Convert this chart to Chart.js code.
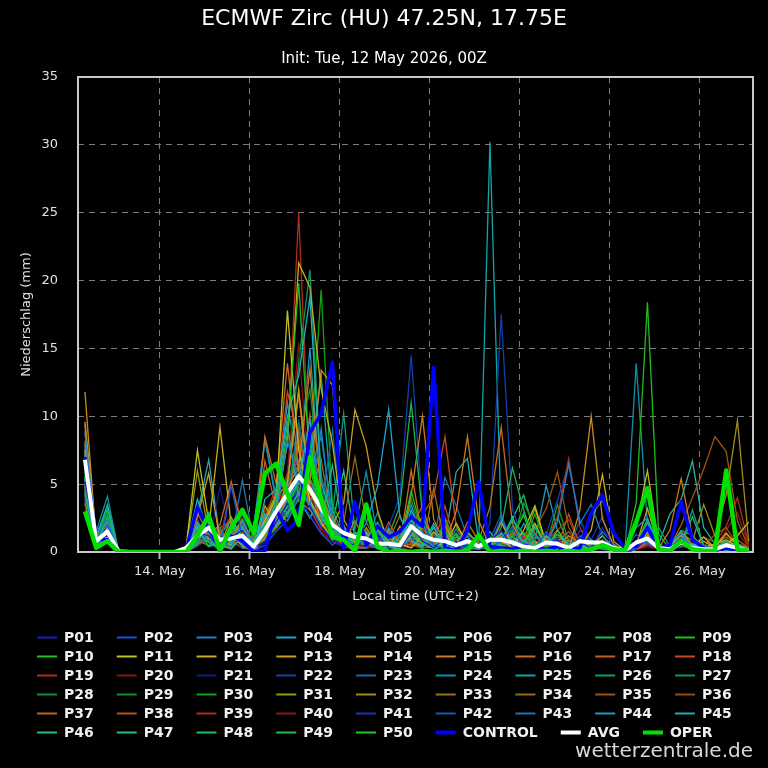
<!DOCTYPE html>
<html>
<head>
<meta charset="utf-8">
<script src="https://cdn.jsdelivr.net/npm/chart.js@4.4.1/dist/chart.umd.min.js"></script>
<style>
html,body{margin:0;padding:0;background:#000;}
canvas{display:block;}
</style>
</head>
<body>
<canvas id="chart" width="768" height="768"></canvas>
<script>
// hours after 12 May 00:00 local time (UTC+2), 6-hourly steps
const hours = [8,14,20,26,32,38,44,50,56,62,68,74,80,86,92,98,104,110,116,122,128,134,140,146,152,158,164,170,176,182,188,194,200,206,212,218,224,230,236,242,248,254,260,266,272,278,284,290,296,302,308,314,320,326,332,338,344,350,356,362];

const tickHours = [48,96,144,192,240,288,336];
const tickLabels = ["14. May","16. May","18. May","20. May","22. May","24. May","26. May"];

// ensemble members (mm / 6h)
const P01 = [5.2,0.9,1.2,0,0,0,0,0,0,0.1,1.4,1.2,0.3,1.1,1.6,0.3,0.8,2.2,3.6,2.9,3.4,1.8,1.0,0.4,0.6,0.4,1.2,0.3,0,2.1,0.8,0.3,1.1,0.2,0.5,0.3,0.8,1.6,0.4,0.2,0,0.6,0.9,0.2,0.7,0.3,1.8,0.4,0,0.2,1.1,0.3,0,0.5,0.2,0.1,0,0.3,0.1,0];
const P02 = [6.1,0.6,2.0,0,0,0,0,0,0,0.1,0.9,2.6,0.2,4.9,1.0,0.1,0.5,1.5,2.4,4.1,2.6,1.4,0.5,1.2,0.3,1.1,0.2,0.6,0.3,1.4,2.3,0.5,0.2,0.8,0.3,0.6,0.2,0.9,1.8,0.3,0.2,1.5,0.4,0,1.2,0.5,0.3,0.2,0.1,1.3,0.6,0.2,0.3,1.1,0.2,0,0.2,0.4,0.2,0.1];
const P03 = [8.8,1.3,2.4,0,0,0,0,0,0,0,0.5,1.4,0.9,0.4,2.2,0.5,1.6,2.8,8.2,5.3,3.2,9.1,1.9,0.9,1.2,0.6,0.3,1.8,0.4,0.9,1.5,0.2,0.6,0.3,1.2,0.2,0.5,2.4,0.8,0.3,1.1,0.6,2.2,6.5,2.1,3.5,1.2,0.3,0,0.4,0.8,0.2,0.6,1.4,0.3,0.2,0.4,0.1,0.3,0];
const P04 = [4.3,0.5,1.9,0,0,0,0,0,0,0.2,2.1,0.8,0.1,1.6,0.6,0.2,2.8,1.9,3.9,5.2,9.8,2.6,1.5,1.8,0.9,2.1,4.8,10.5,2.6,0.8,0.5,1.9,0.4,0.2,0.6,0.3,1.1,0.4,0.2,0.9,0.3,0.2,0.5,0.3,0.4,0.9,0.5,0.1,0,1.8,2.5,0.4,0.2,0.9,0.6,0.2,0.1,0.5,0.2,0.1];
const P05 = [7.6,1.1,3.5,0,0,0,0,0,0,0.3,3.9,1.4,0.4,0.7,1.8,0.2,3.9,4.6,10.0,13.0,18.8,5.1,2.4,0.7,1.4,0.8,1.6,0.5,0.2,3.1,1.2,0.4,0.8,0.3,0.5,0.2,0.6,1.4,0.3,0.2,0.4,1.2,0.6,0.2,0.3,0.5,0.8,0.2,0,0.6,1.5,0.3,0.1,0.8,0.4,0.1,0.3,0.6,0.2,0];
const P06 = [5.5,0.4,1.6,0,0,0,0,0,0,0,0.8,2.3,0.5,0.2,1.2,0.9,2.1,3.3,2.9,4.4,3.6,2.0,6.4,1.3,0.4,1.5,0.6,0.3,1.1,2.4,0.9,0.2,0.5,1.3,0.2,0.6,0.3,0.8,2.6,0.4,0.2,0.5,1.3,0.6,0.2,0.3,0.4,0.1,0,0.3,0.9,0.2,0.5,1.6,1.2,0.3,0.2,0.4,0.6,0.2];
const P07 = [6.4,0.8,2.3,0,0,0,0,0,0,0.1,1.8,0.4,1.2,2.4,0.3,0.4,1.1,4.0,9.4,3.9,2.5,4.2,0.9,2.0,0.3,0.3,2.2,0.8,0.4,1.3,0.3,1.8,0.2,0.6,0.4,0.2,1.5,0.3,0.9,0.6,1.9,0.3,0.2,0.8,0.4,0.2,0.6,0.3,0,0.2,1.6,0.5,0.2,0.4,2.6,0.4,0.3,0.8,0.2,0.1];
const P08 = [4.8,0.7,1.4,0,0,0,0,0,0,0,0.6,1.2,0.2,1.4,2.3,0.3,1.4,2.4,3.3,5.2,5.4,3.4,1.6,0.5,1.0,0.6,0.4,1.2,3.4,11.0,2.8,0.5,1.6,0.3,0.9,0.4,0.2,1.8,6.2,3.1,0.6,0.3,0.9,0.2,0.5,0.2,0.3,0.1,0,0.4,2.2,0.3,0.2,0.6,0.3,0.1,0.2,0.3,0.1,0];
const P09 = [5.9,1.0,3.2,0,0,0,0,0,0,0.2,1.1,1.9,0.3,0.8,1.4,0.5,1.9,3.5,8.8,19.8,6.2,3.0,1.7,0.9,0.5,0.5,1.9,0.4,0.2,1.6,0.7,0.3,2.4,0.5,0.2,0.6,0.4,0.9,2.3,1.4,0.3,0.2,0.6,0.4,0.3,0.4,0.2,0.1,0,3.6,18.4,1.3,0.2,0.5,0.3,0.2,0.1,0.4,0.2,0];
const P10 = [3.6,0.5,2.6,0,0,0,0,0,0,0.1,1.4,0.7,0.4,0.3,1.1,0.8,1.6,2.8,2.3,4.0,8.6,2.6,1.3,1.6,0.3,1.2,0.3,0.5,0.8,4.5,1.4,0.6,0.3,1.1,0.4,0.3,0.9,0.5,1.2,2.7,0.4,0.3,1.6,0.5,0.2,0.3,0.5,0.2,0,0.5,1.1,0.2,0.4,0.9,0.3,0.2,0.4,0.2,0.3,0.1];
const P11 = [7.5,0.9,1.1,0,0,0,0,0,0,0.4,7.5,2.2,0.8,0.5,1.6,0.6,2.3,4.0,17.8,7.5,3.8,2.2,0.9,1.3,0.7,0.9,0.4,1.7,0.6,0.3,1.2,0.8,0.4,2.1,0.6,0.3,0.5,0.8,0.4,1.6,3.4,0.6,0.3,0.5,0.9,0.4,1.2,0.2,0,0.3,1.5,0.4,0.2,0.6,0.3,1.1,0.3,0.6,1.2,2.2];
const P12 = [6.7,0.6,1.8,0,0,0,0,0,0,0.1,0.9,1.7,9.2,2.0,0.8,0.2,1.3,3.3,8.0,21.3,19.5,12.0,8.0,1.8,1.2,1.4,0.6,0.3,1.9,0.8,0.4,1.5,0.6,0.2,0.8,0.5,0.2,1.1,0.3,0.6,2.1,0.4,1.3,0.5,0.3,1.6,5.7,0.8,0.1,1.9,6.0,0.6,0.2,1.2,0.4,0.8,0.3,1.4,0.5,0.2];
const P13 = [9.6,1.2,0.9,0,0,0,0,0,0,0.3,2.6,5.8,0.9,1.4,0.4,0.1,1.0,2.7,5.1,12.0,4.3,3.0,2.0,3.6,10.5,7.8,3.1,0.6,0.4,1.2,2.6,0.9,0.3,0.8,1.4,0.6,0.3,2.2,0.5,0.3,0.8,0.2,1.6,0.4,0.6,0.8,0.4,0.2,0,0.5,3.2,0.4,0.3,1.5,0.5,0.3,0.6,0.9,0.4,0.1];
const P14 = [11.8,0.8,1.3,0,0,0,0,0,0,0.1,1.9,1.0,0.4,2.5,1.1,0.2,3.4,2.0,4.1,5.6,5.1,13.4,12.3,2.4,0.9,0.6,1.8,0.4,0.2,1.4,0.6,0.3,1.9,0.5,0.4,0.3,0.6,1.4,0.8,0.3,0.5,1.1,0.4,0.2,3.1,10.0,2.4,0.5,0.1,0.3,1.2,0.2,0.5,0.9,0.3,0.2,0.3,0.8,0.3,0.1];
const P15 = [8.2,0.6,2.1,0,0,0,0,0,0,0.1,1.2,1.6,0.3,0.9,2.4,0.5,2.5,4.3,4.8,6.2,13.5,4.2,2.2,1.2,0.4,1.8,0.5,1.1,0.3,4.2,10.0,2.4,0.6,3.0,8.5,2.3,0.4,0.8,0.3,0.5,0.2,0.9,0.4,1.2,0.6,0.3,0.5,0.2,0,0.4,0.9,0.3,1.6,5.4,1.1,0.4,0.2,0.5,0.3,0.1];
const P16 = [9.4,1.0,1.7,0,0,0,0,0,0,0.2,1.7,1.3,2.0,5.2,1.5,0.4,8.5,5.0,13.9,6.0,3.6,2.6,1.5,0.8,2.3,0.7,0.3,1.5,0.6,6.0,1.1,0.4,0.9,0.3,2.2,0.8,3.3,9.2,2.1,0.4,0.6,0.3,0.9,0.5,0.3,0.6,0.3,0.2,0,0.3,1.4,0.5,0.2,0.7,0.4,0.2,0.5,0.3,0.2,0];
const P17 = [5.1,0.4,1.0,0,0,0,0,0,0,0,0.7,2.1,0.6,0.3,1.8,0.8,2.3,3.1,3.8,8.1,3.1,1.8,2.7,1.0,0.5,0.5,1.2,0.3,0.9,1.8,3.4,0.6,0.3,1.1,0.5,0.4,0.3,0.6,1.4,0.8,0.2,0.6,0.3,0.9,0.4,0.2,0.8,0.3,0,0.2,0.7,0.3,0.5,1.1,0.3,0.4,0.2,0.6,0.9,0.3];
const P18 = [4.6,0.7,1.5,0,0,0,0,0,0,0.1,0.6,0.9,1.4,2.6,0.8,0.1,1.4,4.3,11.8,8.4,4.9,3.3,1.2,0.5,0.9,0.9,0.4,2.2,0.7,0.5,2.7,4.1,8.5,1.9,0.6,0.3,0.9,0.4,0.2,1.2,0.5,0.3,0.8,1.5,0.4,0.3,0.4,0.1,0,0.2,0.6,0.4,0.3,0.8,0.2,0.1,0.3,0.4,0.6,0.2];
const P19 = [3.9,0.3,0.8,0,0,0,0,0,0,0.1,1.0,1.5,0.7,5.0,2.1,0.7,2.6,4.8,7.8,25.0,5.4,2.5,1.7,0.6,0.4,0.4,0.8,0.3,0.5,1.6,0.4,1.2,2.6,0.5,0.3,0.6,0.3,0.9,0.4,1.1,0.3,0.8,2.6,6.9,1.8,0.5,0.3,0.2,0,0.4,0.8,0.2,0.6,0.4,0.3,0.2,0.1,0.3,0.4,0.2];
const P20 = [3.2,0.5,1.2,0,0,0,0,0,0,0,0.4,1.1,0.3,1.7,1.2,0.5,1.1,2.7,6.0,15.4,4.2,2.1,1.1,0.5,0.2,0.3,0.5,1.1,0.2,0.8,1.6,0.4,0.3,0.6,0.2,0.2,0.4,0.6,0.3,0.2,0.9,0.3,0.5,0.8,0.3,0.2,0.3,0.1,0,0.2,0.5,0.2,0.3,0.6,0.2,0.1,0.2,0.8,1.5,0.3];
const P21 = [5.8,0.6,1.3,0,0,0,0,0,0,0.1,1.2,0.6,4.8,1.1,0.3,0.1,0.7,1.6,2.4,3.3,2.8,1.3,0.7,0.4,0.8,0.3,0.9,0.4,0.6,1.2,0.3,0.8,0.4,0.2,0.5,0.3,0.6,0.2,0.9,0.4,0.3,0.2,0.6,0.3,1.1,0.4,0.6,0.2,0,0.3,0.9,0.2,0.1,0.5,0.3,0.2,0.1,0.3,0.2,0];
const P22 = [6.9,0.9,2.2,0,0,0,0,0,0,0.2,1.5,1.0,0.4,1.9,2.7,0.4,1.6,2.2,3.2,4.4,3.6,2.3,1.3,0.9,0.5,0.6,0.4,1.9,4.1,14.5,3.2,0.6,0.4,0.9,0.3,0.5,2.1,17.5,3.2,0.6,0.4,1.3,3.8,6.5,2.4,0.6,0.4,0.2,0,0.3,0.8,0.3,0.2,0.6,0.4,0.2,0.1,0.2,0.3,0.1];
const P23 = [7.1,0.8,2.7,0,0,0,0,0,0,0.1,0.8,1.7,0.6,0.3,1.4,0.7,2.1,3.6,4.3,9.6,4.6,3.2,9.0,1.4,0.6,0.5,1.4,0.6,0.3,2.6,0.8,0.3,1.2,0.4,0.6,0.3,0.4,1.1,0.5,0.2,0.6,0.9,0.3,0.4,2.3,0.8,0.6,0.3,0,0.5,1.2,0.4,0.3,0.8,0.3,0.2,0.3,0.4,0.2,0.1];
const P24 = [8.0,1.5,4.1,0,0,0,0,0,0,0.3,1.4,2.4,1.0,0.5,1.9,0.3,8.3,4.0,5.1,6.1,7.5,3.9,2.2,1.5,1.7,5.9,1.1,0.4,0.8,3.5,0.9,0.5,0.3,1.7,0.4,0.3,0.8,0.5,0.2,0.6,1.3,0.4,0.3,0.9,0.6,0.4,1.5,0.6,0,13.9,2.1,0.5,0.3,0.9,0.4,0.3,0.2,0.5,0.3,0.1];
const P25 = [4.9,0.7,2.5,0,0,0,0,0,0,0.1,1.0,2.9,0.5,0.9,0.4,1.2,2.8,2.3,4.6,5.6,6.6,13.0,3.1,1.2,0.5,0.6,0.3,1.3,0.5,0.9,2.1,0.4,0.8,0.3,1.5,0.6,30.2,2.3,0.6,1.4,0.3,0.6,0.4,0.2,0.8,0.3,0.6,0.2,0,0.4,0.8,0.3,0.6,1.2,0.5,0.2,0.3,0.4,0.2,0];
const P26 = [5.3,0.4,1.7,0,0,0,0,0,0,0,0.5,1.3,1.8,0.4,0.9,2.0,1.8,3.5,2.6,4.5,5.9,8.5,2.7,10.2,1.5,0.8,0.5,0.3,1.2,2.2,0.6,0.3,1.6,0.4,0.3,0.4,0.2,0.6,1.9,0.5,0.8,0.3,0.6,0.2,0.4,0.3,0.4,0.2,0,0.3,0.9,1.8,0.4,0.6,3.1,0.5,0.3,0.6,0.2,0.1];
const P27 = [6.3,0.9,3.0,0,0,0,0,0,0,0.2,1.6,0.9,0.3,1.6,2.0,0.4,2.3,3.7,5.4,14.0,20.8,5.6,2.4,1.0,0.7,0.6,2.9,0.5,0.3,1.1,0.4,1.4,0.5,0.8,0.3,0.5,0.3,0.8,2.4,1.2,0.4,0.3,1.1,0.6,0.2,0.4,0.3,0.2,0,0.6,1.4,0.3,0.5,0.8,0.6,0.2,0.4,0.5,0.3,0.1];
const P28 = [4.1,0.6,1.1,0,0,0,0,0,0,0.1,0.8,1.6,0.6,1.0,0.5,1.4,1.9,2.9,3.9,4.8,8.1,3.1,2.0,0.8,0.4,1.6,0.4,0.9,0.3,1.8,0.6,0.4,1.3,0.9,0.5,0.2,0.6,0.4,1.5,2.9,0.8,0.5,0.3,0.6,0.3,0.2,0.5,0.1,0,0.3,0.7,0.2,0.6,1.3,0.4,0.3,0.2,0.7,0.4,0.2];
const P29 = [5.7,1.1,2.9,0,0,0,0,0,0,0.1,0.6,1.1,0.3,0.6,1.7,1.0,3.0,4.1,4.4,8.4,12.0,4.6,2.1,1.1,0.5,0.4,1.1,0.6,0.4,3.9,1.3,0.6,0.4,1.1,0.3,0.2,0.5,0.3,0.8,3.6,1.9,0.6,0.4,0.3,0.5,0.3,0.4,0.2,0,0.4,1.0,0.3,0.2,0.7,0.5,0.2,0.3,0.6,0.2,0.1];
const P30 = [4.4,0.3,1.4,0,0,0,0,0,0,0,0.9,0.5,0.8,0.3,1.1,0.6,1.2,2.3,3.5,5.3,6.9,19.3,3.5,1.8,0.8,0.7,0.3,0.5,0.9,2.4,0.7,0.3,0.6,1.4,0.4,0.6,0.4,0.9,1.6,0.5,2.8,0.4,3.5,0.8,0.3,0.2,0.3,0.1,0,0.5,1.9,0.4,0.3,0.6,0.3,0.2,0.1,0.4,0.3,0.1];
const P31 = [6.6,0.7,1.6,0,0,0,0,0,0,0.3,6.0,1.4,0.5,1.2,0.6,0.3,0.9,1.9,2.9,3.8,3.1,2.3,1.2,0.8,1.4,0.9,0.5,0.3,0.2,1.2,0.5,0.9,0.3,0.5,0.8,0.3,0.6,0.4,0.2,0.9,3.2,0.5,0.7,0.3,0.4,0.3,0.5,0.2,0,0.2,0.8,0.3,0.4,0.5,0.3,0.3,0.6,0.4,0.5,0.2];
const P32 = [7.2,0.8,2.0,0,0,0,0,0,0,0.1,2.2,1.0,1.6,0.5,0.9,0.4,1.5,2.8,4.5,5.8,4.8,2.5,1.5,0.6,1.1,0.6,0.9,0.4,0.3,0.8,1.6,0.4,0.9,0.3,0.6,0.4,0.3,0.6,0.4,1.4,0.6,0.3,0.8,0.5,0.3,0.6,0.4,0.2,0,0.5,1.3,0.3,0.6,1.4,0.8,3.5,1.2,4.2,9.7,0.8];
const P33 = [5.6,0.5,1.3,0,0,0,0,0,0,0.1,1.2,1.8,0.4,1.8,0.3,0.7,1.0,2.5,4.1,9.0,4.4,6.8,2.0,1.2,0.5,1.3,0.4,0.8,2.7,0.6,0.3,4.7,0.5,0.9,0.3,0.3,0.6,0.2,0.5,0.3,1.4,0.4,0.3,0.6,0.2,0.4,0.3,0.2,0,0.3,0.8,0.2,0.5,0.9,0.4,0.3,0.5,1.1,0.6,0.2];
const P34 = [8.9,0.6,1.0,0,0,0,0,0,0,0.2,1.8,0.8,0.3,1.0,1.6,0.5,2.0,3.3,5.6,6.7,5.2,2.9,1.7,2.2,7.0,2.2,0.6,0.4,0.3,1.0,0.6,0.3,1.2,0.6,0.4,0.5,0.3,1.2,0.4,0.3,0.7,0.4,0.5,0.3,0.8,0.3,0.9,0.2,0,0.4,1.2,0.3,0.2,0.6,0.3,0.2,0.4,0.3,0.2,0.1];
const P35 = [4.7,0.4,0.9,0,0,0,0,0,0,0,0.8,0.5,1.2,0.5,0.7,0.3,1.2,2.1,3.2,4.3,3.6,2.2,1.1,0.5,0.9,0.5,0.3,1.1,0.4,0.7,0.3,0.6,0.9,0.3,0.5,0.4,0.2,0.5,0.9,0.4,1.6,3.2,5.9,1.8,0.4,0.3,0.5,0.2,0,0.3,0.6,0.2,0.4,2.0,4.0,6.1,8.5,7.4,2.3,0.3];
const P36 = [6.0,0.9,1.5,0,0,0,0,0,0,0.1,0.5,0.9,0.4,0.8,0.3,1.2,2.4,1.6,3.7,5.0,10.2,3.5,1.8,1.0,0.5,1.0,0.5,0.3,0.6,1.5,0.4,0.8,0.3,0.5,0.3,0.3,0.6,0.4,0.3,0.8,0.4,0.6,0.3,0.5,0.4,0.3,0.4,0.1,0,0.3,0.6,0.4,0.2,0.9,0.6,0.4,1.3,1.8,0.5,0.2];
const P37 = [7.9,0.5,1.9,0,0,0,0,0,0,0.2,2.9,1.2,0.5,0.4,1.0,0.3,6.7,3.2,5.2,6.4,4.1,2.5,1.4,0.7,0.4,0.4,0.8,0.5,0.3,1.3,0.6,0.4,2.1,0.6,0.9,0.5,0.3,1.4,0.6,0.4,0.3,0.8,0.6,0.4,0.3,0.6,0.3,0.2,0,0.2,0.9,0.3,0.4,0.6,0.3,0.2,0.3,0.5,0.3,0.1];
const P38 = [4.2,0.8,1.6,0,0,0,0,0,0,0.1,1.3,0.7,1.8,2.2,0.4,0.8,1.7,3.7,4.9,11.6,3.9,2.0,1.1,0.5,0.7,0.3,0.5,0.9,0.3,0.6,1.8,0.5,3.4,0.4,0.6,0.3,0.5,0.3,0.9,0.4,0.6,1.2,0.4,2.8,0.5,0.4,0.3,0.2,0,0.3,0.6,0.2,0.4,0.7,0.3,0.2,0.6,1.3,0.6,0.3];
const P39 = [5.0,0.5,1.1,0,0,0,0,0,0,0.1,0.7,1.3,0.3,0.6,1.5,0.4,0.9,3.0,5.3,6.8,3.5,1.7,1.0,0.4,0.2,0.4,0.6,0.3,0.8,0.5,0.3,0.9,1.8,0.4,0.3,0.2,0.4,0.6,0.3,0.5,0.3,0.8,1.6,2.4,0.6,0.3,0.4,0.1,0,0.2,0.5,0.3,0.2,0.4,0.6,1.1,0.7,1.9,4.0,0.6];
const P40 = [3.5,0.4,0.7,0,0,0,0,0,0,0,0.5,1.0,0.7,1.3,0.6,0.2,1.0,2.2,3.8,4.8,3.2,1.5,0.8,0.4,0.3,0.3,0.4,0.6,0.2,0.4,0.9,0.3,0.6,0.3,0.2,0.3,0.2,0.4,0.3,0.2,0.5,0.4,0.3,1.1,0.3,0.2,0.3,0.1,0,0.2,0.4,0.2,0.3,0.5,0.3,0.2,0.4,1.6,2.9,0.5];
const P41 = [6.2,0.7,1.8,0,0,0,0,0,0,0.1,2.4,0.7,0.4,1.4,0.9,0.3,1.2,2.0,3.1,4.6,4.1,2.6,1.5,0.7,0.4,0.4,1.0,0.5,0.3,1.7,0.6,0.4,0.8,0.3,0.5,0.6,0.3,0.8,0.4,0.3,0.6,0.4,0.9,0.3,1.6,0.9,2.6,0.3,0,0.4,0.8,0.2,0.4,0.6,0.3,0.2,0.3,0.2,0.1,0];
const P42 = [7.4,1.2,2.3,0,0,0,0,0,0,0.2,1.0,1.8,0.9,0.3,2.2,0.5,1.5,2.5,4.1,7.8,4.4,3.1,1.7,1.0,0.5,0.6,0.4,0.9,0.5,2.8,1.2,0.5,0.3,0.8,0.4,0.5,0.9,2.8,0.5,0.3,0.4,0.6,0.3,0.9,0.5,0.6,0.4,0.2,0,0.3,0.7,0.3,0.2,1.2,0.5,0.3,0.2,0.4,0.3,0.1];
const P43 = [5.4,0.6,1.5,0,0,0,0,0,0,0.1,1.6,1.3,0.5,0.9,5.3,0.8,1.9,3.0,3.7,4.6,3.8,2.8,1.3,0.8,0.5,0.5,0.3,0.8,0.4,1.0,2.2,0.6,5.5,3.4,1.1,0.4,0.6,0.3,0.8,0.5,0.3,1.1,0.4,0.6,0.9,2.7,3.8,1.5,0,0.4,1.1,0.3,0.5,0.8,0.4,0.2,0.3,0.6,0.2,0.1];
const P44 = [7.2,1.0,2.6,0,0,0,0,0,0,0.1,0.7,2.1,0.6,1.7,1.2,1.9,8.3,3.7,11.0,5.8,15.0,3.8,1.9,1.1,0.7,0.8,0.4,1.5,0.6,0.9,0.4,1.3,0.6,0.4,0.8,0.4,0.6,1.2,0.5,2.1,0.8,4.9,1.6,0.5,0.3,0.5,0.4,0.2,0,0.6,1.3,0.4,0.3,0.9,0.5,0.3,0.2,0.4,0.3,0.1];
const P45 = [6.5,1.3,2.8,0,0,0,0,0,0,0.2,2.8,6.8,1.0,0.5,1.6,0.6,2.4,4.2,5.6,11.6,5.4,3.4,2.0,1.4,0.6,0.6,0.9,0.4,1.4,0.8,0.5,2.1,0.9,5.9,6.9,0.7,0.3,0.6,0.4,0.9,0.3,0.6,0.4,0.3,0.5,0.3,0.5,0.2,0,0.3,0.9,0.4,0.3,0.6,0.4,0.2,0.3,0.5,0.2,0.1];
const P46 = [5.1,0.6,1.2,0,0,0,0,0,0,0.1,0.7,1.5,0.4,1.1,2.0,0.5,1.3,2.6,3.3,4.2,5.3,2.9,1.6,0.9,0.4,0.4,0.6,0.3,0.5,1.9,0.8,0.4,0.3,0.9,0.4,0.3,0.5,0.4,0.9,0.6,0.3,0.5,0.4,0.3,0.6,0.4,0.3,0.2,0,0.4,0.9,0.6,2.8,3.9,6.7,1.8,0.6,0.8,0.5,0.3];
const P47 = [4.5,0.5,1.7,0,0,0,0,0,0,0.1,1.7,0.9,1.3,0.6,0.8,0.3,1.1,2.3,3.8,5.1,4.3,2.5,2.1,6.0,1.0,0.5,0.3,0.7,0.4,1.1,0.5,0.3,0.8,0.4,0.3,0.5,0.3,0.6,1.2,0.4,1.8,0.6,0.4,0.3,0.5,0.3,0.4,0.1,0,0.3,0.7,0.3,0.5,1.0,0.6,0.4,0.3,0.6,0.4,0.2];
const P48 = [3.8,0.4,0.9,0,0,0,0,0,0,0,1.1,0.4,0.6,1.5,0.5,0.9,1.4,1.8,2.7,4.0,4.7,2.7,1.4,0.7,0.3,0.3,0.8,0.4,0.3,1.4,0.6,0.3,0.5,0.4,0.3,0.4,0.6,0.5,2.4,4.2,1.3,0.4,2.6,0.5,0.3,0.2,0.3,0.1,0,0.5,1.1,0.3,0.4,0.7,0.3,0.2,0.4,0.3,0.2,0.1];
const P49 = [4.9,0.8,2.0,0,0,0,0,0,0,0.1,0.6,1.2,0.3,0.9,1.3,0.4,0.8,2.2,3.5,5.4,4.9,3.5,1.6,0.8,0.4,0.4,0.5,0.3,0.7,2.3,0.5,0.4,0.6,0.3,0.4,0.3,0.5,0.4,1.1,0.6,0.4,0.3,0.5,0.4,0.3,0.4,0.3,0.2,0,0.6,2.4,0.3,0.4,0.5,0.3,0.2,0.3,0.4,0.2,0.1];
const P50 = [5.6,0.6,1.4,0,0,0,0,0,0,0.1,0.9,1.4,0.5,0.4,1.0,0.6,1.0,1.7,2.9,4.4,3.8,2.4,1.3,0.5,0.3,0.3,0.4,0.6,0.3,1.6,0.4,0.3,0.4,0.6,0.3,0.4,0.3,0.5,1.4,0.8,0.3,0.4,0.6,0.3,0.4,0.3,0.4,0.2,0,0.4,1.7,0.3,0.4,0.6,0.3,0.2,0.4,0.6,0.3,0.1];

const CONTROL = [7.0,1.0,0.9,0,0,0,0,0,0,0.2,3.3,1.7,0.3,1.2,0.8,0,0.1,3.1,1.6,2.4,8.8,10.2,14.0,0.3,3.7,0.5,1.9,1.1,1.5,2.6,1.9,13.6,0.3,0.1,1.6,5.2,0.4,0.3,0.2,0.5,0.3,0.2,0.4,0.2,0.3,2.9,4.2,1.4,0.3,0.4,1.8,0.3,0.5,3.7,0.9,0.3,0.2,0.3,0.2,0.1];
const AVG = [6.8,0.8,1.5,0.05,0,0,0,0,0,0.3,1.2,1.8,0.9,1.0,1.2,0.4,1.6,3.0,4.3,5.6,4.6,3.2,2.0,1.4,1.1,1.0,0.6,0.6,0.5,1.9,1.2,0.9,0.8,0.5,0.8,0.4,0.9,0.9,0.7,0.4,0.3,0.7,0.6,0.3,0.8,0.7,0.7,0.3,0.1,0.7,1.0,0.3,0.2,0.7,0.3,0.2,0.2,0.5,0.3,0.1];
const OPER = [3.0,0.3,0.8,0,0,0,0,0,0,0,1.2,2.7,0.1,1.8,3.1,1.4,5.8,6.5,4.3,2.0,7.0,3.8,1.1,0.9,0.1,3.5,0.4,0,0.1,0,0.1,0,0.1,0,0.1,1.25,0,0.1,0,0.1,0,0.1,0,0.1,0,0.2,0.5,0.2,0.1,2.2,4.7,0.2,0.1,0.8,0.2,0.1,0.1,6.0,0.2,0.1];

const members = [P01,P02,P03,P04,P05,P06,P07,P08,P09,P10,P11,P12,P13,P14,P15,P16,P17,P18,P19,P20,
                 P21,P22,P23,P24,P25,P26,P27,P28,P29,P30,P31,P32,P33,P34,P35,P36,P37,P38,P39,P40,
                 P41,P42,P43,P44,P45,P46,P47,P48,P49,P50];

const memberColors = [
    "#1c1cc0","#1c50d0","#1c80d0","#1ca4d0","#1cb4b4","#1cb098","#1cb07c","#1cb450","#20bc20","#20c420",
    "#c0c020","#c8ac20","#c89c20","#c88c20","#c87c20","#c86c20","#c85c20","#c84820","#b02c18","#8c1010",
    "#10188c","#1040a8","#106aa0","#1090a8","#10a4a4","#109880","#10945c","#10903c","#109428","#10a410",
    "#989810","#a08c18","#987414","#9c6814","#9c5414","#944c10","#c46020","#bc4c20","#a83020","#8c1818",
    "#2030c0","#2054b4","#2074b4","#2098c0","#20acb4","#20b89c","#20c084","#20c064","#20c444","#20cc20"
];

function toPoints(vals){
    return hours.map((h,i)=>({x:h, y:vals[i]}));
}

const datasets = [];

members.forEach((vals,k)=>{
    datasets.push({
        label: "P" + String(k+1).padStart(2,"0"),
        data: toPoints(vals),
        borderColor: memberColors[k],
        borderWidth: 1.3,
        order: 3
    });
});

datasets.push({label:"CONTROL", data:toPoints(CONTROL), borderColor:"#0000ff", borderWidth:3.5, borderJoinStyle:"round", order:2});
datasets.push({label:"AVG", data:toPoints(AVG), borderColor:"#ffffff", borderWidth:4, borderJoinStyle:"round", order:1});
datasets.push({label:"OPER", data:toPoints(OPER), borderColor:"#00e000", borderWidth:4.5, borderJoinStyle:"round", order:0});

//------------------------
// background, frame, titles, legend
//------------------------

const decorations = {
    id: "decorations",
    beforeDraw(chart){
        const ctx = chart.ctx;
        ctx.save();
        ctx.fillStyle = "#000";
        ctx.fillRect(0,0,chart.width,chart.height);
        ctx.restore();
    },
    beforeDatasetsDraw(chart){
        const ctx = chart.ctx;
        const a = chart.chartArea;
        ctx.save();
        ctx.strokeStyle = "#c8c8c8";
        ctx.lineWidth = 2;
        ctx.strokeRect(a.left, a.top, a.right-a.left, a.bottom-a.top);
        ctx.restore();
    },
    afterDraw(chart){
        const ctx = chart.ctx;
        ctx.save();

        ctx.fillStyle = "#ffffff";
        ctx.textAlign = "center";
        ctx.textBaseline = "middle";
        ctx.font = '22px "DejaVu Sans"';
        ctx.fillText("ECMWF Zirc (HU) 47.25N, 17.75E", 384, 19);
        ctx.font = '15px "DejaVu Sans"';
        ctx.fillText("Init: Tue, 12 May 2026, 00Z", 384, 59);

        // legend, flowing rows
        ctx.font = 'bold 14px "DejaVu Sans"';
        ctx.textAlign = "left";
        let x = 37, y = 637.5;
        chart.data.datasets.forEach(ds=>{
            const tw = ctx.measureText(ds.label).width;
            if(x + 27 + tw > 750){
                x = 37;
                y += 19;
            }
            ctx.strokeStyle = ds.borderColor;
            ctx.lineWidth = ds.order < 3 ? 4 : 2;
            ctx.beginPath();
            ctx.moveTo(x, y);
            ctx.lineTo(x+20, y);
            ctx.stroke();
            ctx.fillStyle = "#f0f0f0";
            ctx.fillText(ds.label, x+27, y+1);
            x += 27 + tw + 23;
        });

        ctx.fillStyle = "#d8d8d8";
        ctx.textAlign = "right";
        ctx.font = '20px "DejaVu Sans"';
        ctx.fillText("wetterzentrale.de", 753, 752);

        ctx.restore();
    }
};

const axisFont = {family:"DejaVu Sans", size:13};

new Chart(document.getElementById("chart"),{
    type:"line",
    data:{datasets:datasets},
    options:{
        responsive:false,
        devicePixelRatio:1,
        animation:false,
        events:[],
        layout:{padding:{top:77, right:15, bottom:156, left:0}},
        elements:{
            line:{tension:0, fill:false},
            point:{radius:0}
        },
        plugins:{
            legend:{display:false},
            tooltip:{enabled:false}
        },
        scales:{
            x:{
                type:"linear",
                min:4.3,
                max:364.3,
                afterBuildTicks:(s)=>{ s.ticks = tickHours.map(v=>({value:v})); },
                afterFit:(s)=>{ s.height = 60; },
                ticks:{
                    autoSkip:false,
                    maxRotation:0,
                    color:"#e0e0e0",
                    font:axisFont,
                    padding:5,
                    callback:(v)=>tickLabels[tickHours.indexOf(v)]
                },
                grid:{
                    color:"#7c7c7c",
                    lineWidth:1,
                    drawTicks:true,
                    tickLength:7,
                    tickColor:"#b0b0b0",
                    tickWidth:2,
                    tickBorderDash:[]
                },
                border:{display:false, dash:[6,5]},
                title:{
                    display:true,
                    text:"Local time (UTC+2)",
                    color:"#e0e0e0",
                    font:axisFont,
                    padding:{top:0, bottom:8}
                }
            },
            y:{
                min:0,
                max:35,
                afterFit:(s)=>{ s.width = 78; },
                ticks:{
                    stepSize:5,
                    color:"#e0e0e0",
                    font:axisFont,
                    padding:20
                },
                grid:{
                    color:"#7c7c7c",
                    lineWidth:1,
                    drawTicks:false
                },
                border:{display:false, dash:[6,5]},
                title:{
                    display:true,
                    text:"Niederschlag (mm)",
                    color:"#e0e0e0",
                    font:axisFont,
                    padding:{top:19, bottom:0}
                }
            }
        }
    },
    plugins:[decorations]
});
</script>
</body>
</html>
